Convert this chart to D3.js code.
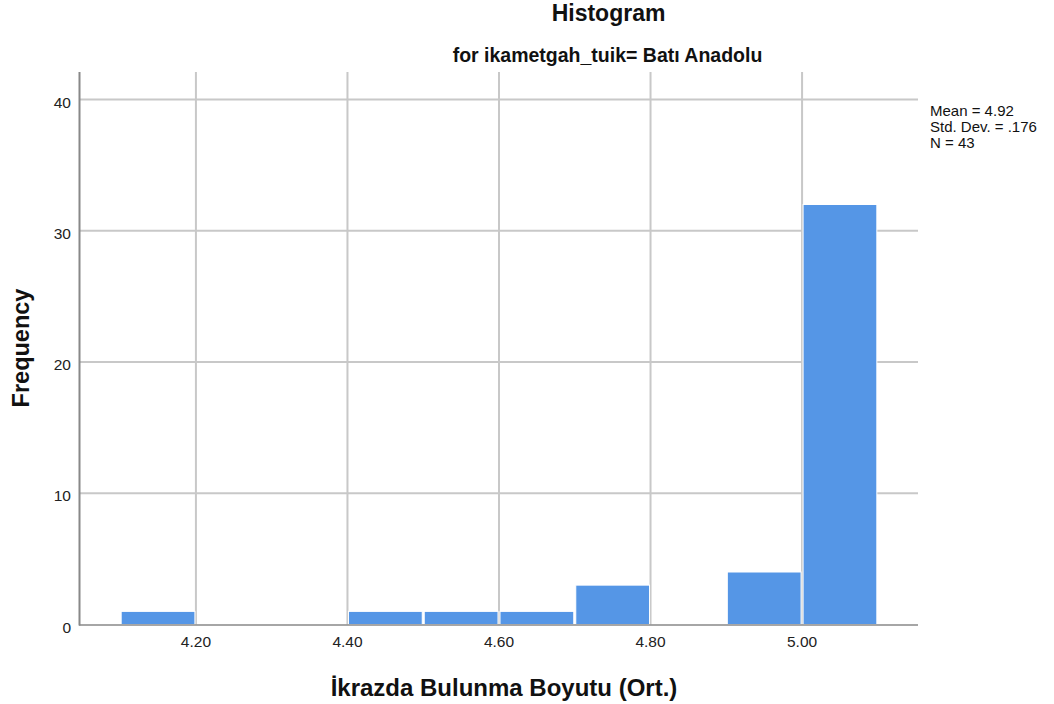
<!DOCTYPE html>
<html><head><meta charset="utf-8">
<script src="https://cdn.jsdelivr.net/npm/d3@7"></script>
<style>body{margin:0;background:#fff;} text{font-family:Arial,"Liberation Sans",sans-serif;}</style>
</head><body>
<svg id="c" width="1054" height="704"></svg>
<script>
const binStarts = [4.1, 4.2, 4.3, 4.4, 4.5, 4.6, 4.7, 4.8, 4.9, 5.0];
const binWidth = 0.1;
const frequencies = [1, 0, 0, 1, 1, 1, 3, 0, 4, 32];
const xTicks = [4.2, 4.4, 4.6, 4.8, 5.0];
const yTicks = [0, 10, 20, 30, 40];
const statsLines = ["Mean = 4.92", "Std. Dev. = .176", "N = 43"];

(function(){
const svg = d3.select("#c");
const x = d3.scaleLinear().domain([4.047, 5.153]).range([80, 918]);
const y = d3.scaleLinear().domain([0, 40]).range([624.5, 99.5]);
const plotTop = 72;

// gridlines
svg.append("g").selectAll("line").data(yTicks.filter(d=>d>0)).join("line")
  .attr("x1", 80).attr("x2", 918).attr("y1", d=>y(d)).attr("y2", d=>y(d))
  .attr("stroke", "#c8c8c8").attr("stroke-width", 2);
svg.append("g").selectAll("line").data(xTicks).join("line")
  .attr("x1", d=>x(d)).attr("x2", d=>x(d)).attr("y1", plotTop).attr("y2", 624.5)
  .attr("stroke", "#c8c8c8").attr("stroke-width", 2);

// bars
svg.append("g").selectAll("rect").data(binStarts.map((s,i)=>({s, f:frequencies[i]})).filter(d=>d.f>0)).join("rect")
  .attr("x", d=>x(d.s)+1).attr("width", d=>x(d.s+binWidth)-x(d.s)-2)
  .attr("y", d=>y(d.f)).attr("height", d=>y(0)-y(d.f))
  .attr("fill", "#5596e6").attr("stroke", "#ffffff").attr("stroke-width", 1);

// axes lines
svg.append("line").attr("x1", 79.5).attr("x2", 79.5).attr("y1", plotTop).attr("y2", 625.5)
  .attr("stroke", "#888").attr("stroke-width", 2);
svg.append("line").attr("x1", 79).attr("x2", 918).attr("y1", 625).attr("y2", 625)
  .attr("stroke", "#888").attr("stroke-width", 1.5);

// tick labels
svg.append("g").selectAll("text").data(yTicks).join("text")
  .attr("x", 71).attr("y", d=>y(d)+8).attr("text-anchor", "end")
  .attr("font-size", 15.5).attr("fill", "#222").text(d=>d);
svg.append("g").selectAll("text").data(xTicks).join("text")
  .attr("x", d=>x(d)).attr("y", 647).attr("text-anchor", "middle")
  .attr("font-size", 15.5).attr("fill", "#222").text(d=>d.toFixed(2));

// titles
svg.append("text").attr("x", 608.5).attr("y", 21).attr("text-anchor", "middle")
  .attr("font-size", 23).attr("font-weight", "bold").attr("fill", "#111").text("Histogram");
svg.append("text").attr("x", 607.5).attr("y", 62).attr("text-anchor", "middle")
  .attr("font-size", 19.5).attr("font-weight", "bold").attr("fill", "#111").text("for ikametgah_tuik= Batı Anadolu");
svg.append("text").attr("x", 504).attr("y", 696).attr("text-anchor", "middle")
  .attr("font-size", 24).attr("font-weight", "bold").attr("fill", "#111").text("İkrazda Bulunma Boyutu (Ort.)");
svg.append("text").attr("transform", "translate(29,348) rotate(-90)").attr("text-anchor", "middle")
  .attr("font-size", 23.5).attr("font-weight", "bold").attr("fill", "#111").text("Frequency");

// stats
svg.append("g").selectAll("text").data(statsLines).join("text")
  .attr("x", 930).attr("y", (d,i)=>116 + i*16).attr("font-size", 15).attr("fill", "#111").text(d=>d);
})();
</script>
</body></html>
